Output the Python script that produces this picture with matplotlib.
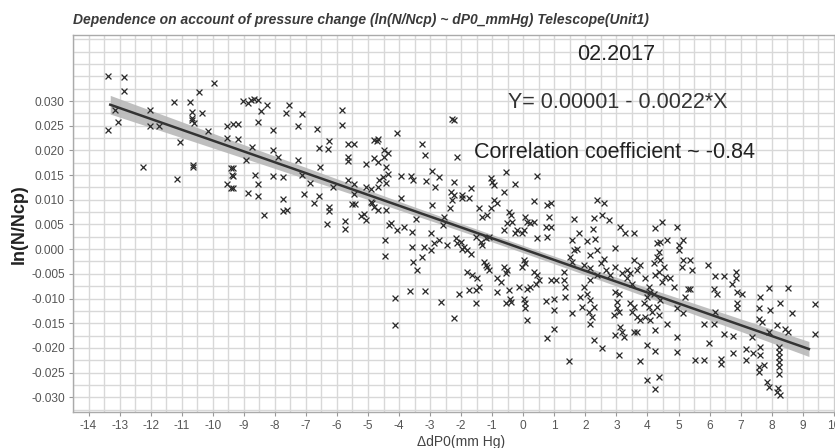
import numpy as np
import matplotlib
matplotlib.use("Agg")
import matplotlib.pyplot as plt
from matplotlib.ticker import MultipleLocator, FixedLocator

plt.rcParams['font.family'] = ['Liberation Sans', 'DejaVu Sans']

title = "Dependence on account of pressure change (ln(N/Ncp) ~ dP0_mmHg) Telescope(Unit1)"
date_label = "02.2017"
equation_label = "Y= 0.00001 - 0.0022*X"
corr_label = "Correlation coefficient ~ -0.84"
x_label = "\u0394dP0(mm Hg)"
y_label = "ln(N/Ncp)"

intercept = 0.00001
slope = -0.0022
fit_x_range = [-13.3, 9.2]

x_ticks = list(range(-14, 11))
y_ticks = [-0.030, -0.025, -0.020, -0.015, -0.010, -0.005, 0.0, 0.005, 0.010, 0.015, 0.020, 0.025, 0.030]

# scatter points (dP0, ln(N/Ncp))
pts = [
    (-13.36, 0.0351), (-12.85, 0.0349), (-12.85, 0.0321), (-9.95, 0.0337), (-10.43, 0.0318),
    (-11.24, 0.0298), (-10.74, 0.0299), (-10.66, 0.0278), (-10.33, 0.0276), (-12.02, 0.0282),
    (-13.14, 0.0283), (-13.05, 0.0258), (-13.36, 0.0241), (-12.02, 0.0249), (-11.73, 0.0250),
    (-10.66, 0.0262), (-10.60, 0.0255), (-10.66, 0.0266), (-10.14, 0.0240), (-9.55, 0.0249),
    (-9.20, 0.0253), (-9.53, 0.0226), (-9.20, 0.0224), (-11.05, 0.0218), (-12.24, 0.0166),
    (-10.63, 0.0170), (-10.63, 0.0166), (-11.14, 0.0143), (-9.42, 0.0164), (-9.39, 0.0150),
    (-9.55, 0.0132), (-9.42, 0.0123),
    (-9.04, 0.0301), (-8.87, 0.0297), (-8.77, 0.0303), (-8.66, 0.0305), (-8.53, 0.0303),
    (-8.45, 0.0280), (-8.25, 0.0292), (-7.54, 0.0293), (-7.64, 0.0275), (-7.14, 0.0274),
    (-8.53, 0.0258), (-9.34, 0.0253), (-8.07, 0.0241), (-7.25, 0.0249), (-6.65, 0.0243),
    (-5.84, 0.0283), (-5.84, 0.0251), (-6.25, 0.0219), (-6.57, 0.0206), (-6.30, 0.0202),
    (-5.64, 0.0214), (-5.45, 0.0214), (-8.75, 0.0207), (-8.07, 0.0201), (-8.93, 0.0180),
    (-7.91, 0.0186), (-7.25, 0.0180), (-5.64, 0.0187), (-5.64, 0.0178), (-9.34, 0.0164),
    (-9.34, 0.0149), (-9.34, 0.0123), (-8.07, 0.0148), (-7.75, 0.0147), (-8.64, 0.0150),
    (-8.53, 0.0132), (-8.53, 0.0107), (-8.86, 0.0114), (-7.75, 0.0101), (-7.75, 0.0078),
    (-7.61, 0.0079), (-8.34, 0.0069), (-7.14, 0.0150), (-6.87, 0.0134), (-7.05, 0.0111),
    (-6.54, 0.0166), (-6.57, 0.0107), (-6.75, 0.0094), (-6.25, 0.0086), (-6.25, 0.0077),
    (-6.33, 0.0050), (-6.14, 0.0126), (-5.64, 0.0141), (-5.45, 0.0133), (-5.45, 0.0111),
    (-5.50, 0.0091), (-5.42, 0.0091), (-5.74, 0.0057), (-5.74, 0.0040), (-5.23, 0.0067),
    (-5.07, 0.0060), (-5.12, 0.0072), (-5.07, 0.0126), (-4.91, 0.0122), (-5.07, 0.0172),
    (-4.80, 0.0184), (-4.69, 0.0177), (-4.48, 0.0187), (-4.80, 0.0221), (-4.69, 0.0224),
    (-4.72, 0.0219), (-4.50, 0.0201), (-4.37, 0.0194), (-4.43, 0.0166), (-4.37, 0.0153),
    (-4.53, 0.0147), (-4.64, 0.0141), (-4.69, 0.0126), (-4.43, 0.0134), (-4.86, 0.0093),
    (-4.80, 0.0086), (-4.91, 0.0096), (-4.69, 0.0079), (-4.43, 0.0079), (-4.32, 0.0049),
    (-4.46, 0.0018), (-4.46, -0.0014),
    (-2.23, 0.0261), (-2.28, 0.0264), (-4.05, 0.0236), (-3.25, 0.0214), (-3.16, 0.0191),
    (-2.12, 0.0187), (-3.95, 0.0148), (-3.60, 0.0148), (-3.54, 0.0141), (-3.14, 0.0138),
    (-2.93, 0.0159), (-2.71, 0.0147), (-2.85, 0.0125), (-2.23, 0.0136), (-2.34, 0.0116),
    (-2.23, 0.0109), (-2.28, 0.0099), (-2.36, 0.0083), (-1.96, 0.0109), (-1.96, 0.0103),
    (-1.69, 0.0123), (-1.75, 0.0103), (-1.05, 0.0145), (-1.00, 0.0136), (-0.95, 0.0130),
    (-0.57, 0.0157), (-0.25, 0.0132), (-0.62, 0.0116), (0.45, 0.0148), (0.34, 0.0098),
    (0.77, 0.0089), (-0.95, 0.0099), (-0.84, 0.0093), (-1.05, 0.0083), (-1.16, 0.0069),
    (-1.43, 0.0083), (-1.32, 0.0066), (-0.46, 0.0076), (-0.41, 0.0069), (-0.35, 0.0055),
    (-0.51, 0.0052), (-0.62, 0.0039), (0.07, 0.0066), (0.13, 0.0055), (0.23, 0.0052),
    (0.34, 0.0055), (0.02, 0.0039), (-0.03, 0.0032), (0.45, 0.0022), (-3.95, 0.0103),
    (-4.27, 0.0052), (-4.06, 0.0039), (-3.84, 0.0045), (-3.46, 0.0062), (-3.57, 0.0035),
    (-2.98, 0.0032), (-2.60, 0.0049), (-2.55, 0.0066), (-2.93, 0.0089), (-3.20, 0.0005),
    (-2.98, -0.0002), (-3.25, -0.0016), (-2.87, 0.0012), (-2.71, 0.0018), (-3.57, 0.0005),
    (-3.54, -0.0026), (-3.43, -0.0043), (-2.44, 0.0008), (-2.18, 0.0022), (-2.02, 0.0015),
    (-1.91, 0.0005), (-1.80, -0.0002), (-1.69, -0.0009), (-2.12, 0.0012), (-1.96, 0.0001),
    (-1.53, 0.0025), (-1.37, 0.0015), (-1.32, 0.0008), (-1.21, 0.0022), (-1.11, 0.0025),
    (-1.27, -0.0026), (-1.16, -0.0036), (-1.11, -0.0043), (-1.21, -0.0032), (-1.80, -0.0046),
    (-1.64, -0.0053), (-1.48, -0.0059), (-1.43, -0.0076), (-1.53, -0.0083), (-1.75, -0.0082),
    (-0.84, -0.0059), (-0.73, -0.0066), (-0.57, -0.0049), (-0.51, -0.0043), (-0.62, -0.0036),
    (-0.84, -0.0087), (-0.46, -0.0083), (-0.43, -0.0100), (-0.57, -0.0110), (-0.41, -0.0107),
    (-0.14, -0.0076), (0.13, -0.0080), (0.23, -0.0076), (0.40, -0.0070), (0.50, -0.0063),
    (0.34, -0.0046), (0.45, -0.0053), (0.02, -0.0100), (0.07, -0.0110), (0.07, -0.0120),
    (0.13, -0.0144), (0.02, -0.0022), (0.07, -0.0029), (-0.03, -0.0036), (-0.25, 0.0032),
    (-0.19, 0.0039), (-4.14, -0.0098), (-4.14, -0.0154), (-3.65, -0.0085), (-3.16, -0.0085),
    (-2.64, -0.0108), (-2.07, -0.0091), (-1.53, -0.0109), (-2.23, -0.0139), (0.72, -0.0105),
    (0.77, -0.0181), (0.72, 0.0045), (0.82, 0.0066), (0.77, 0.0025),
    (2.38, 0.0099), (2.59, 0.0093), (1.65, 0.0062), (2.27, 0.0064), (2.54, 0.0069),
    (2.75, 0.0060), (0.88, 0.0093), (0.88, 0.0045), (2.25, 0.0040), (1.79, 0.0033),
    (2.06, 0.0016), (2.32, 0.0020), (2.38, -0.0001), (2.16, -0.0012), (1.58, 0.0018),
    (1.63, -0.0001), (1.52, -0.0016), (1.58, -0.0026), (1.74, 0.0001), (2.97, 0.0003),
    (3.13, 0.0045), (3.29, 0.0032), (3.56, 0.0033), (4.25, 0.0042), (4.47, 0.0055),
    (4.95, 0.0045), (5.16, 0.0018), (5.00, 0.0008), (4.63, 0.0018), (4.41, 0.0015),
    (4.31, 0.0012), (4.36, -0.0005), (4.31, -0.0016), (4.41, -0.0022), (4.20, -0.0029),
    (4.52, -0.0036), (4.36, -0.0046), (4.25, -0.0053), (4.58, -0.0056), (4.47, -0.0066),
    (4.74, -0.0059), (4.84, -0.0076), (5.00, -0.0002), (5.16, -0.0022), (5.11, -0.0036),
    (5.38, -0.0022), (5.43, -0.0043), (5.36, -0.0080), (3.56, -0.0022), (3.67, -0.0043),
    (3.77, -0.0032), (3.45, -0.0049), (3.34, -0.0059), (3.50, -0.0070), (3.93, -0.0059),
    (4.04, -0.0076), (4.09, -0.0087), (3.98, -0.0097), (4.20, -0.0090), (3.88, -0.0110),
    (4.04, -0.0117), (4.15, -0.0127), (4.31, -0.0117), (4.41, -0.0103), (4.36, -0.0134),
    (3.93, -0.0137), (4.09, -0.0144), (4.25, -0.0164), (2.97, -0.0087), (3.07, -0.0090),
    (3.02, -0.0107), (3.02, -0.0120), (2.91, -0.0134), (3.07, -0.0127), (3.13, -0.0157),
    (3.18, -0.0168), (2.97, -0.0174), (3.23, -0.0178), (3.56, -0.0168), (3.67, -0.0168),
    (3.45, -0.0110), (3.56, -0.0117), (3.50, -0.0127), (3.67, -0.0137), (3.77, -0.0144),
    (2.27, -0.0184), (2.54, -0.0201), (3.07, -0.0215), (3.77, -0.0227), (3.98, -0.0195),
    (4.25, -0.0206), (4.95, -0.0179), (4.95, -0.0208), (1.47, -0.0226), (3.98, -0.0266),
    (4.36, -0.0259), (4.25, -0.0284), (5.54, -0.0225), (1.95, -0.0032), (2.16, -0.0039),
    (2.38, -0.0053), (2.16, -0.0063), (1.95, -0.0076), (2.06, -0.0090), (1.84, -0.0097),
    (2.16, -0.0103), (2.27, -0.0117), (2.11, -0.0127), (2.22, -0.0137), (2.16, -0.0151),
    (1.90, -0.0117), (1.58, -0.0130), (1.31, -0.0046), (1.36, -0.0076), (1.36, -0.0097),
    (0.98, -0.0100), (0.98, -0.0124), (0.98, -0.0161), (1.31, -0.0063), (1.04, -0.0063),
    (0.88, -0.0063), (2.59, -0.0019), (2.49, -0.0029), (2.65, -0.0043), (2.81, -0.0053),
    (2.97, -0.0036), (3.18, -0.0049), (3.34, -0.0043), (5.32, -0.0080), (5.22, -0.0097),
    (5.16, -0.0130), (4.63, -0.0151), (4.95, -0.0120),
    (5.94, -0.0032), (6.18, -0.0055), (6.45, -0.0055), (6.72, -0.0070), (6.86, -0.0046),
    (6.86, -0.0059), (6.13, -0.0080), (6.24, -0.0090), (6.88, -0.0087), (7.04, -0.0090),
    (6.88, -0.0110), (6.88, -0.0120), (7.90, -0.0078), (8.54, -0.0078), (7.63, -0.0097),
    (8.27, -0.0110), (7.95, -0.0124), (7.58, -0.0120), (8.65, -0.0130), (9.40, -0.0111),
    (7.58, -0.0141), (7.68, -0.0147), (8.17, -0.0154), (8.43, -0.0161), (8.54, -0.0168),
    (7.90, -0.0168), (9.40, -0.0171), (6.18, -0.0127), (5.81, -0.0151), (6.13, -0.0151),
    (6.45, -0.0171), (6.77, -0.0176), (5.97, -0.0191), (7.36, -0.0178), (5.83, -0.0225),
    (6.37, -0.0222), (6.37, -0.0233), (6.77, -0.0211), (7.18, -0.0203), (7.18, -0.0224),
    (7.41, -0.0210), (7.63, -0.0198), (7.63, -0.0215), (7.58, -0.0239), (7.74, -0.0235),
    (7.58, -0.0249), (8.25, -0.0198), (8.25, -0.0208), (8.25, -0.0218), (8.25, -0.0228),
    (8.25, -0.0239), (8.25, -0.0252), (7.85, -0.0269), (7.90, -0.0279), (8.22, -0.0282),
    (8.27, -0.0296), (8.17, -0.0289),
]
dp0 = np.array([p[0] for p in pts])
lnr = np.array([p[1] for p in pts])

fig = plt.figure(figsize=(8.35, 4.48), dpi=100)
ax = fig.add_axes([73/835, 1-412/448, 1-73/835, (412-35)/448])

ax.set_xlim(-14.5, 10.04)
ax.set_ylim(-0.0330, 0.0434)

ax.xaxis.set_major_locator(FixedLocator(x_ticks))
ax.xaxis.set_minor_locator(MultipleLocator(0.5))
ax.yaxis.set_major_locator(FixedLocator(y_ticks))
ax.yaxis.set_minor_locator(MultipleLocator(0.0025))
ax.set_xticklabels([str(t) for t in x_ticks])
ax.set_yticklabels([f"{t:.3f}" for t in y_ticks])
ax.grid(True, which='both', color='#d8d8d8', linewidth=1.0)
ax.set_axisbelow(True)
ax.tick_params(which='major', length=3, color='#999999', labelsize=8.6, labelcolor='#555555', pad=3)
ax.tick_params(which='minor', length=0)
for s in ax.spines.values():
    s.set_color('#aaaaaa')
    s.set_linewidth(1.0)

# regression line with confidence band
xf = np.linspace(fit_x_range[0], fit_x_range[1], 100)
yf = intercept + slope * xf
n = len(dp0)
resid = lnr - (intercept + slope * dp0)
s_err = np.sqrt(np.sum(resid**2) / (n - 2))
xm = dp0.mean()
sxx = np.sum((dp0 - xm)**2)
hw = 1.96 * s_err * np.sqrt(1.0/n + (xf - xm)**2 / sxx)
ax.fill_between(xf, yf - hw, yf + hw, color='#b8b8b8', alpha=0.9, linewidth=0, zorder=2)

ax.scatter(dp0, lnr, marker='x', s=18, linewidths=0.9, color='#2a2a2a', zorder=3)
ax.plot(xf, yf, color='#333333', linewidth=1.8, zorder=4)

fig.text(73/835, 1-20/448, title, fontsize=10, fontweight='bold',
         fontstyle='italic', color='#3a3a3a', ha='left', va='center')

fig.text(616/835, 1-55/448, date_label, fontsize=15.5, color='#222222', ha='center', va='center')
fig.text(618/835, 1-103/448, equation_label, fontsize=15.5, color='#333333', ha='center', va='center')
fig.text(615/835, 1-152/448, corr_label, fontsize=15.5, color='#222222', ha='center', va='center')

fig.text(19/835, 1-224/448, y_label, fontsize=13, fontweight='bold', rotation=90,
         ha='center', va='center', color='#222222')
fig.text(461/835, 1-442/448, x_label, fontsize=10, color='#444444', ha='center', va='center')

fig.savefig('out.png', dpi=100)
